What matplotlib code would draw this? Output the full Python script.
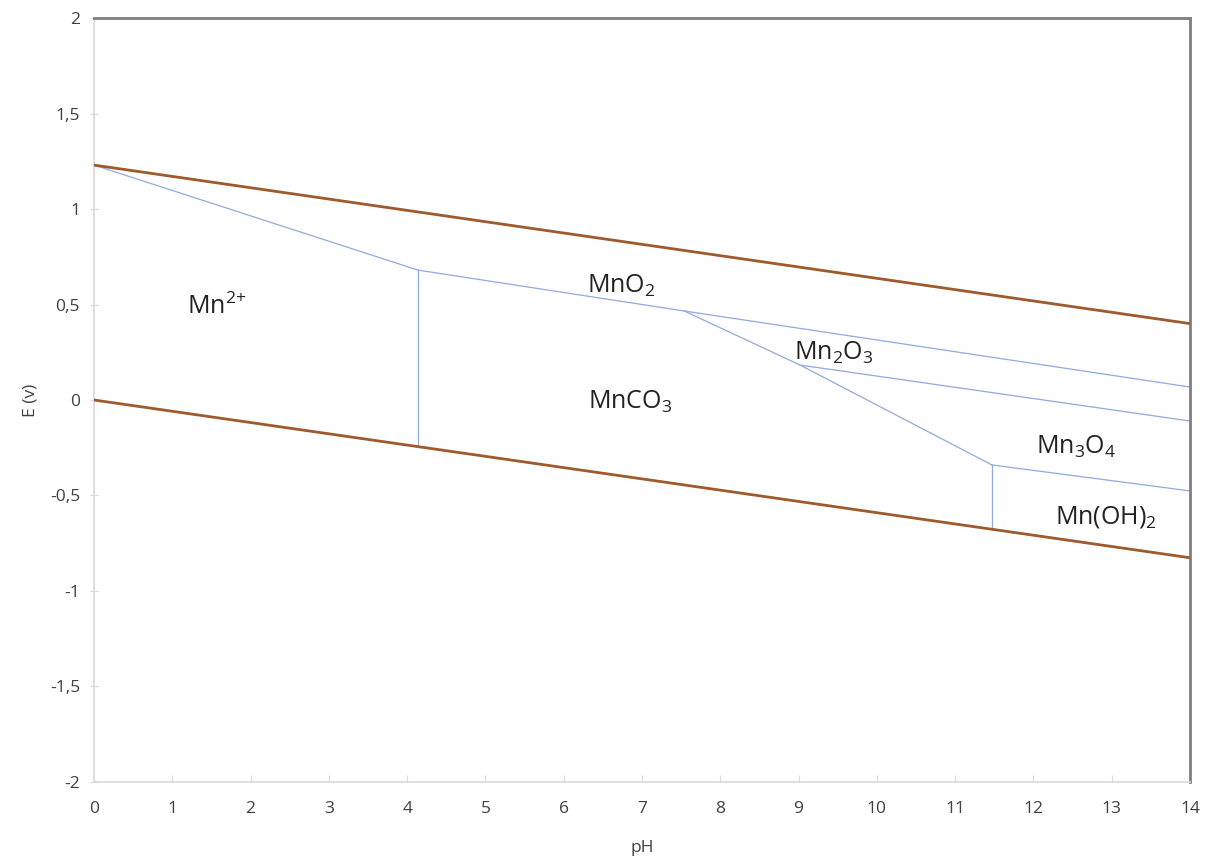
import matplotlib
matplotlib.use("Agg")
import matplotlib.pyplot as plt
from matplotlib.ticker import FuncFormatter

plt.rcParams['font.family'] = ['Open Sans', 'DejaVu Sans']
plt.rcParams['mathtext.fontset'] = 'custom'
plt.rcParams['mathtext.rm'] = 'Open Sans'
plt.rcParams['mathtext.it'] = 'Open Sans:italic'
plt.rcParams['mathtext.bf'] = 'Open Sans:bold'

# Water stability lines (E = a - 0.059 pH)
ph_water = [0, 14]
e_o2 = [1.23, 0.40]
e_h2 = [0.0, -0.826]

# Manganese domain boundaries (pH, E)
b_mn2_mno2 = ([0, 4.14], [1.23, 0.68])
b_mn2_co3 = ([4.14, 4.14], [0.68, -0.244])
b_mno2_co3 = ([4.14, 7.54], [0.68, 0.466])
b_mno2_mn2o3 = ([7.54, 14], [0.466, 0.068])
b_co3_oxides = ([7.54, 9.02, 11.47], [0.466, 0.183, -0.34])
b_mn2o3_mn3o4 = ([9.02, 14], [0.183, -0.11])
b_mn3o4_oh = ([11.47, 14], [-0.34, -0.476])
b_co3_oh = ([11.47, 11.47], [-0.34, -0.677])
boundaries = [b_mn2_mno2, b_mn2_co3, b_mno2_co3, b_mno2_mn2o3,
              b_co3_oxides, b_mn2o3_mn3o4, b_mn3o4_oh, b_co3_oh]

# Species labels
species = [r'Mn$^{2\!+}$', r'MnO$_2$', r'Mn$_2$O$_3$', r'MnCO$_3$', r'Mn$_3$O$_4$', r'Mn(OH)$_2$']
label_ph = [1.57, 6.73, 9.45, 6.85, 12.55, 12.92]
label_e = [0.49, 0.60, 0.245, -0.01, -0.245, -0.61]

fig = plt.figure(figsize=(12.13, 8.58), dpi=100)
ax = fig.add_axes([0.0775, 0.0886, 0.9035, 0.8904])

brown = '#9e5a2c'
blue = '#8faadc'

for xs, ys in boundaries:
    ax.plot(xs, ys, color=blue, lw=0.9, zorder=2)
ax.plot(ph_water, e_o2, color=brown, lw=2.0, zorder=3)
ax.plot(ph_water, e_h2, color=brown, lw=2.0, zorder=3)

for txt, x, y in zip(species, label_ph, label_e):
    ax.text(x, y, txt, fontsize=18, color='#222222', ha='center', va='center')

ax.set_xlim(0, 14)
ax.set_ylim(-2, 2)
ax.set_xticks(range(0, 15))
ax.set_yticks([-2, -1.5, -1, -0.5, 0, 0.5, 1, 1.5, 2])
ax.yaxis.set_major_formatter(FuncFormatter(lambda v, p: ('%g' % v).replace('.', ',')))

for side in ['left', 'bottom']:
    ax.spines[side].set_color('#d9d9d9')
    ax.spines[side].set_linewidth(1.2)
for side in ['top', 'right']:
    ax.spines[side].set_color('#7f7f7f')
    ax.spines[side].set_linewidth(2.0)

ax.tick_params(axis='x', direction='in', length=5, color='#d9d9d9', labelsize=12.5,
               labelcolor='#404040', pad=14)
ax.tick_params(axis='y', direction='inout', length=6, color='#d9d9d9', labelsize=12.5,
               labelcolor='#404040', pad=7)

ax.set_xlabel('pH', fontsize=12.5, color='#404040', labelpad=16)
ax.set_ylabel('E (v)', fontsize=12.5, color='#404040', labelpad=8)

fig.savefig('out.png', dpi=100)
